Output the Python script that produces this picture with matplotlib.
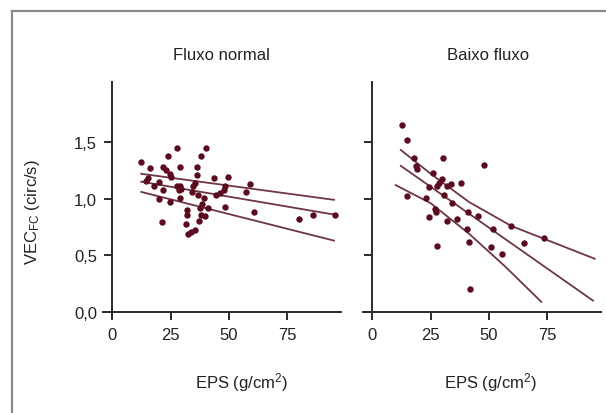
import matplotlib
matplotlib.use("Agg")
import matplotlib.pyplot as plt
from matplotlib.lines import Line2D

plt.rcParams["font.family"] = ["Liberation Sans", "DejaVu Sans"]
plt.rcParams["mathtext.fontset"] = "custom"
plt.rcParams["mathtext.rm"] = "Liberation Sans"
plt.rcParams["mathtext.it"] = "Liberation Sans:italic"

# Fluxo normal: EPS (g/cm2) vs VEC_FC (circ/s)
normal_x = [12.4, 16.3, 21.5, 23.9, 27.5, 29.2, 36.1, 37.8, 40.1, 36.1, 43.5, 49.6, 59.2, 57.2,
            14.6, 15.3, 20.0, 22.9, 24.6, 25.3, 21.7, 20.0, 24.9, 21.3, 28.9, 28.9, 31.8, 32.2,
            31.5, 32.5, 33.9, 35.3, 34.6, 35.3, 34.3, 36.8, 37.5, 37.8, 37.2, 38.6, 39.2, 41.1,
            39.6, 44.6, 46.1, 47.8, 48.2, 48.2, 60.7, 80.1, 86.1, 95.6, 17.7, 28.6, 29.6, 27.8]
normal_y = [1.32, 1.27, 1.28, 1.38, 1.45, 1.28, 1.28, 1.38, 1.45, 1.21, 1.18, 1.19, 1.13, 1.06,
            1.16, 1.18, 1.15, 1.25, 1.22, 1.19, 1.08, 1.00, 0.97, 0.79, 1.11, 1.01, 0.90, 0.86,
            0.78, 0.69, 0.71, 0.72, 1.11, 1.14, 1.06, 1.03, 0.92, 0.86, 0.80, 0.95, 1.01, 0.92,
            0.85, 1.03, 1.05, 1.08, 1.11, 0.93, 0.88, 0.82, 0.86, 0.86, 1.11, 1.08, 1.09, 1.11]

# regression line and 95% bands (read at a few x positions)
normal_fit_x = [12.4, 95.0]
normal_fit = [1.15, 0.86]
normal_upper = [1.22, 0.99]
normal_lower = [1.06, 0.63]

# Baixo fluxo
low_x = [12.9, 15.0, 17.9, 18.9, 19.3, 30.1, 48.0, 25.8, 29.8, 28.7, 27.5, 24.1, 32.2, 33.7,
         38.0, 15.0, 23.2, 30.8, 34.1, 26.9, 27.2, 24.1, 32.2, 36.1, 40.8, 45.1, 40.4, 51.6,
         59.5, 41.5, 27.7, 50.9, 55.6, 64.8, 73.4, 41.9]
low_y = [1.65, 1.52, 1.36, 1.29, 1.26, 1.36, 1.30, 1.23, 1.17, 1.14, 1.11, 1.10, 1.11, 1.13,
         1.14, 1.02, 1.01, 1.03, 0.96, 0.91, 0.88, 0.84, 0.80, 0.82, 0.88, 0.85, 0.73, 0.73,
         0.76, 0.62, 0.58, 0.57, 0.51, 0.61, 0.65, 0.20]

low_fit_x = [12.2, 94.6]
low_fit = [1.29, 0.10]
low_upper_x = [12.2, 25.0, 41.5, 59.5, 95.3]
low_upper = [1.43, 1.22, 0.97, 0.76, 0.47]
low_lower_x = [10.0, 25.0, 41.5, 57.0, 72.4]
low_lower = [1.12, 0.96, 0.69, 0.40, 0.09]

y_ticks = [0.0, 0.5, 1.0, 1.5]
y_labels = ["0,0", "0,5", "1,0", "1,5"]
x_ticks = [0, 25, 50, 75]

DOT = "#5a0b1e"
LINE = "#6d3545"
AX = "#2b2b2b"
TXT = "#222222"
FS = 12

fig = plt.figure(figsize=(6.06, 4.14), dpi=100)
ax1 = fig.add_axes([103 / 606, 1 - 313 / 414, 238 / 606, 230 / 414])
ax2 = fig.add_axes([363 / 606, 1 - 313 / 414, 238 / 606, 230 / 414])

for ax in (ax1, ax2):
    ax.set_xlim(-4, 98)
    ax.set_ylim(0, 2.03)
    for s in ("top", "right"):
        ax.spines[s].set_visible(False)
    ax.spines["left"].set_position(("data", 0))
    for s in ("left", "bottom"):
        ax.spines[s].set_color(AX)
        ax.spines[s].set_linewidth(1.4)
    ax.set_xticks(x_ticks)
    ax.set_yticks(y_ticks)
    ax.tick_params(direction="out", length=6, width=1.4, color=AX, labelsize=FS,
                   labelcolor=TXT, pad=5)
    ax.set_facecolor("none")

ax1.set_yticklabels(y_labels)
ax2.set_yticklabels([])

ax1.plot(normal_fit_x, normal_fit, color=LINE, lw=1.3)
ax1.plot(normal_fit_x, normal_upper, color=LINE, lw=1.3)
ax1.plot(normal_fit_x, normal_lower, color=LINE, lw=1.3)
ax1.plot(normal_x, normal_y, "o", color=DOT, ms=4.6, mew=0)

ax2.plot(low_fit_x, low_fit, color=LINE, lw=1.3)
ax2.plot(low_upper_x, low_upper, color=LINE, lw=1.3)
ax2.plot(low_lower_x, low_lower, color=LINE, lw=1.3)
ax2.plot(low_x, low_y, "o", color=DOT, ms=4.6, mew=0)

fig.text(221 / 606, 1 - 55 / 414, "Fluxo normal", ha="center", va="center", fontsize=FS, color=TXT)
fig.text(488 / 606, 1 - 55 / 414, "Baixo fluxo", ha="center", va="center", fontsize=FS, color=TXT)
fig.text(242 / 606, 1 - 383 / 414, "EPS (g/cm$^2$)", ha="center", va="center", fontsize=FS, color=TXT)
fig.text(491 / 606, 1 - 383 / 414, "EPS (g/cm$^2$)", ha="center", va="center", fontsize=FS, color=TXT)
fig.text(32 / 606, 1 - 212 / 414, r"VEC$_{\mathregular{FC}}$ (circ/s)", ha="center", va="center",
         rotation=90, fontsize=FS, color=TXT)

# outer frame (left and top edges only)
fig.add_artist(Line2D([12 / 606, 12 / 606], [0, 1 - 12 / 414], transform=fig.transFigure,
                      color="#8a8a8a", lw=1.6))
fig.add_artist(Line2D([12 / 606, 1], [1 - 12 / 414, 1 - 12 / 414], transform=fig.transFigure,
                      color="#8a8a8a", lw=1.6))

fig.savefig("out.png", dpi=100)
